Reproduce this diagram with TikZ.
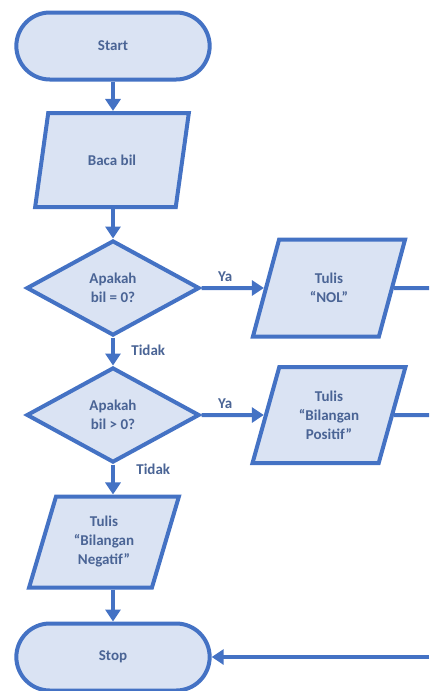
\documentclass[tikz,border=0pt]{standalone}
\usepackage{fontspec}
\setmainfont{Carlito}
\usepackage{tikz}
\usetikzlibrary{
    arrows.meta,
    shapes.geometric,
    shapes.misc
}
\definecolor{fcline}{HTML}{4472C4}
\definecolor{fcfill}{HTML}{DAE3F3}
\definecolor{fctext}{HTML}{4A6495}
\tikzset{
    every node/.style={font=\bfseries\fontsize{15}{19}\selectfont, text=fctext, align=center},
    box/.style={draw=fcline, fill=fcfill, line width=4pt},
    terminal/.style={box, rounded rectangle, minimum width=200pt, minimum height=67pt},
    io/.style={box, trapezium, trapezium left angle=72, trapezium right angle=108,
        trapezium stretches=true, minimum width=154pt, minimum height=94pt},
    decision/.style={box, diamond, minimum width=173pt, minimum height=95pt, inner sep=0pt},
    link/.style={draw=fcline, line width=4pt},
    flow/.style={link, -{Triangle[width=15pt,length=12pt]}},
}

\begin{document}
\begin{tikzpicture}[x=1pt, y=-1pt]
    \useasboundingbox (0,0) rectangle (429,691);
    % main column
    \node[terminal] (start) at (113,46) {Start};
    \node[io] (baca) at (112,160) {Baca bil};
    \node[decision] (cek0) at (113,288) {Apakah\\bil = 0?};
    \node[decision] (cekpos) at (113,415) {Apakah\\bil > 0?};
    \node[io, minimum width=150pt, minimum height=91pt] (neg) at (104,542) {Tulis\\``Bilangan\\Negatif''};
    \node[terminal] (stop) at (113,657) {Stop};
    % branches to the right
    \node[io, minimum width=153pt, minimum height=97pt] (nol) at (329,288) {Tulis\\``NOL''};
    \node[io, minimum width=153pt, minimum height=96pt] (pos) at (329,415) {Tulis\\``Bilangan\\Positif''};
    \coordinate (r1) at (429,288);
    \coordinate (r2) at (429,415);
    \coordinate (r3) at (429,657);

    \draw[flow] (start.south) -- (start.south |- baca.north);
    \draw[flow] (cek0.north |- baca.south) -- (cek0.north);
    \draw[flow] (cek0) -- node[above=1pt, pos=0.38] (ya1) {Ya} (nol);
    \draw[flow] (cek0.south) -- node[right=13pt, pos=0.45] (tidak1) {Tidak} (cekpos.north);
    \draw[flow] (cekpos) -- node[above=1pt, pos=0.38] (ya2) {Ya} (pos);
    \draw[flow] (cekpos.south) -- node[right=18pt, pos=0.15] (tidak2) {Tidak} (cekpos.south |- neg.north);
    \draw[flow] (stop.north |- neg.south) -- (stop.north);
    \draw[link] (nol.east) -- (r1);
    \draw[link] (pos.east) -- (r2);
    \draw[flow] (r3) -- (stop.east);
\end{tikzpicture}
\end{document}
